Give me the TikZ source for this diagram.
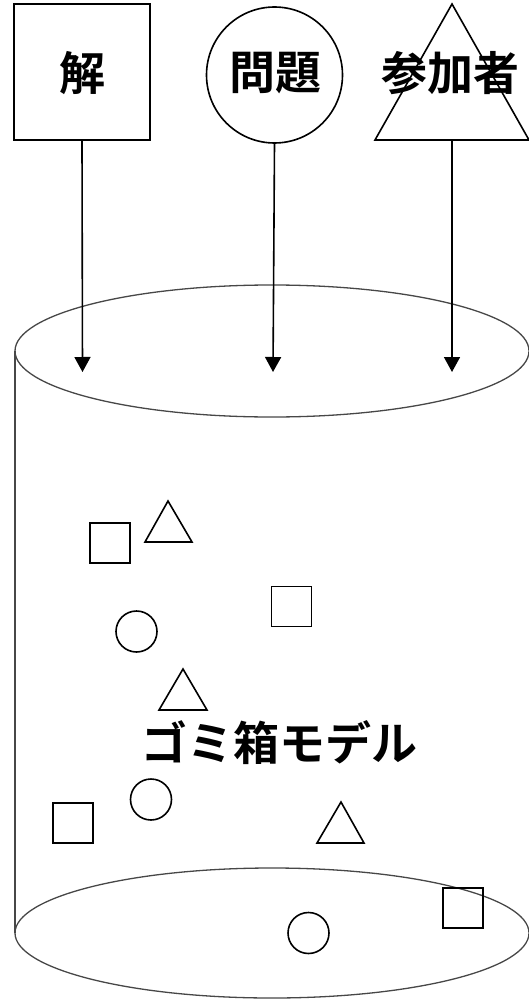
\documentclass[tikz,border=0pt]{standalone}
\usepackage{fontspec}
\newfontfamily\cjk{Noto Sans CJK JP}[BoldFont={Noto Sans CJK JP Bold}]
\usetikzlibrary{arrows.meta}
\tikzset{
  shp/.style={draw=black, line width=1.6pt, inner sep=0pt},
  big/.style={shp, minimum size=136pt},
  lbl/.style={font=\cjk\bfseries\fontsize{46}{50}\selectfont, inner sep=0pt},
  arr/.style={line width=1.6pt, -{Triangle[length=15pt,width=16pt]}},
  cyl/.style={draw=black!72, line width=1.3pt},
  sq/.style={shp, rectangle, minimum size=40pt},
  ci/.style={shp, circle, minimum size=41pt},
  tri/.style={draw=black, line width=1.6pt, line join=miter},
}
\begin{document}
\begin{tikzpicture}[x=1pt,y=-1pt]
\useasboundingbox (0,0) rectangle (529,1000);
% cylinder
\draw[cyl] (272,351) ellipse [x radius=257, y radius=66];
\draw[cyl] (272,933) ellipse [x radius=257, y radius=65];
\draw[cyl] (15,351) -- (15,933);
% top shapes
\node[big, rectangle] (sol) at (82,72) {};
\node[lbl] at (82,73) {解};
\node[big, circle] (prob) at (274.5,75) {};
\node[lbl] at (275,73) {問題};
\draw[tri] (452,4) -- (529,140) -- (375,140) -- cycle;
\coordinate (part) at (452,140);
\node[lbl] (partl) at (450,73) {参加者};
% arrow ends
\coordinate (e1) at (82.5,372);
\coordinate (e2) at (273,372);
\coordinate (e3) at (452,372);
\draw[arr] (sol.south) -- (e1);
\draw[arr] (prob.south) -- (e2);
\draw[arr] (part) -- (e3);
% small shapes
\node[sq] (s1) at (110,543) {};
\node[sq] (s2) at (291.5,606.5) {};
\node[sq] (s3) at (73,823) {};
\node[sq] (s4) at (463,908) {};
\node[ci] (c1) at (136.5,631.5) {};
\node[ci] (c2) at (151,799.5) {};
\node[ci] (c3) at (308.5,933) {};
\draw[tri] (168,501) -- (192,542) -- (145,542) -- cycle;
\draw[tri] (183,669) -- (207,710) -- (159,710) -- cycle;
\draw[tri] (341,802) -- (364,843) -- (317,843) -- cycle;
% label
\node[lbl] (title) at (279,743) {ゴミ箱モデル};
\end{tikzpicture}
\end{document}
